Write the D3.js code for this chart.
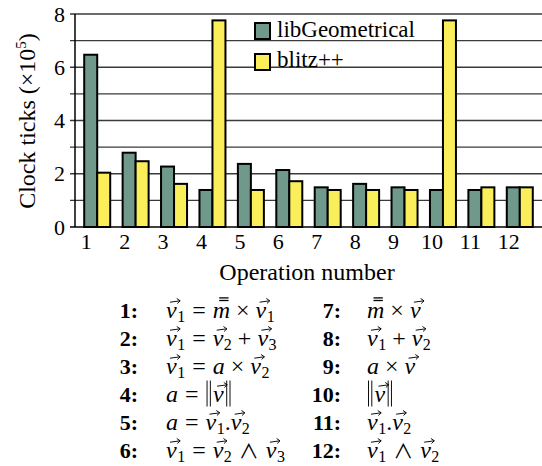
<!DOCTYPE html>
<html><head><meta charset="utf-8">
<script src="https://cdn.jsdelivr.net/npm/d3@7"></script>
<style>
html,body{margin:0;padding:0;background:#fff;}
svg{display:block;}
</style></head>
<body>
<svg id="c" width="542" height="466"></svg>
<script>
const categories = ["1","2","3","4","5","6","7","8","9","10","11","12"];
const libGeometrical = [6.47, 2.79, 2.27, 1.39, 2.37, 2.14, 1.49, 1.62, 1.49, 1.39, 1.39, 1.49];
const blitz = [2.04, 2.47, 1.62, 7.76, 1.39, 1.72, 1.39, 1.39, 1.39, 7.76, 1.49, 1.49];
const yTickLabels = [0, 2, 4, 6, 8];
const yGridValues = [1, 2, 3, 4, 5, 6, 7, 8];
const seriesNames = ["libGeometrical", "blitz++"];
const seriesColors = ["#6f9a8b", "#fbee5b"];
const opLabels = ["1:","2:","3:","4:","5:","6:","7:","8:","9:","10:","11:","12:"];
const opFormulas = [
  [["vec","v","1"],["rel","="],["mat","m"],["bin","×"],["vec","v","1"]],
  [["vec","v","1"],["rel","="],["vec","v","2"],["bin","+"],["vec","v","3"]],
  [["vec","v","1"],["rel","="],["it","a"],["bin","×"],["vec","v","2"]],
  [["it","a"],["rel","="],["norm","v"]],
  [["it","a"],["rel","="],["vec","v","1"],["dot","."],["vec","v","2"]],
  [["vec","v","1"],["rel","="],["vec","v","2"],["wedge","∧"],["vec","v","3"]],
  [["mat","m"],["bin","×"],["vec","v",""]],
  [["vec","v","1"],["bin","+"],["vec","v","2"]],
  [["it","a"],["bin","×"],["vec","v",""]],
  [["norm","v"]],
  [["vec","v","1"],["dot","."],["vec","v","2"]],
  [["vec","v","1"],["wedge","∧"],["vec","v","2"]]
];

const FONT = "'Liberation Serif','Times New Roman',serif";
const svg = d3.select("#c");

const axisX = 75, x0 = 78, x1 = 539, yTop = 14, yBot = 227;
const x = d3.scaleBand().domain(categories).range([x0, x1]);
const y = d3.scaleLinear().domain([0, 8]).range([yBot, yTop]);
const barW = 13;

// gridlines
svg.append("g").selectAll("line").data(yGridValues).join("line")
  .attr("x1", axisX - 5).attr("x2", 542)
  .attr("y1", d => y(d)).attr("y2", d => y(d))
  .attr("stroke", "#3a3a3a").attr("stroke-width", 1.3);

// bars
const series = [libGeometrical, blitz];
series.forEach((vals, si) => {
  svg.append("g").selectAll("rect").data(vals).join("rect")
    .attr("x", (d, i) => x(categories[i]) + x.bandwidth() / 2 - barW + si * barW)
    .attr("y", d => y(d))
    .attr("width", barW)
    .attr("height", d => y(0) - y(d))
    .attr("fill", seriesColors[si])
    .attr("stroke", "#000").attr("stroke-width", 2);
});

// axes lines
svg.append("line").attr("x1", axisX).attr("x2", axisX).attr("y1", y(8)).attr("y2", y(0))
  .attr("stroke", "#000").attr("stroke-width", 1.5);
svg.append("line").attr("x1", axisX - 5).attr("x2", 542).attr("y1", y(0)).attr("y2", y(0))
  .attr("stroke", "#000").attr("stroke-width", 1.6);

// y axis labels
const ya = svg.append("g").attr("transform", `translate(${axisX},0)`)
  .call(d3.axisLeft(y).tickValues(yTickLabels).tickSize(0).tickPadding(10).tickFormat(d3.format("d")));
ya.select(".domain").remove();
ya.selectAll("text").attr("font-family", FONT).attr("font-size", 22).attr("fill", "#000");

// x axis labels
const xa = svg.append("g").attr("transform", `translate(0,${yBot})`)
  .call(d3.axisBottom(x).tickSize(0).tickPadding(6));
xa.select(".domain").remove();
xa.selectAll("text").attr("font-family", FONT).attr("font-size", 22).attr("fill", "#000").attr("dx", -11);

// axis titles
svg.append("text").attr("x", 307).attr("y", 280).attr("text-anchor", "middle")
  .attr("font-family", FONT).attr("font-size", 24).text("Operation number");
const yt = svg.append("text").attr("transform", "translate(35,121) rotate(-90)")
  .attr("text-anchor", "middle").attr("font-family", FONT).attr("font-size", 24);
yt.append("tspan").text("Clock ticks (×10");
yt.append("tspan").attr("font-size", 15).attr("dy", -9).text("5");
yt.append("tspan").attr("dy", 9).text(")");

// legend
const leg = svg.append("g");
seriesNames.forEach((n, i) => {
  leg.append("rect").attr("x", 255).attr("y", 23 + i * 31).attr("width", 15).attr("height", 16)
    .attr("fill", seriesColors[i]).attr("stroke", "#000").attr("stroke-width", 2);
  leg.append("text").attr("x", 277).attr("y", 37 + i * 30).attr("font-family", FONT)
    .attr("font-size", 23).text(n);
});

// formulas
const FS = 24;
function arrow(g, xa, xb, yy) {
  g.append("path").attr("d", `M${xa},${yy + 0.7}L${xb},${yy - 0.7}M${xb-3.4},${yy-3}L${xb},${yy-0.7}L${xb-2.8},${yy+2}`)
    .attr("stroke", "#000").attr("stroke-width", 0.95).attr("fill", "none");
}
function txt(g, cx, yy, s, opts) {
  const t = g.append("text").attr("x", cx).attr("y", yy)
    .attr("font-family", opts.family || FONT).attr("font-size", opts.size || FS);
  if (opts.italic) t.attr("font-style", "italic");
  if (opts.weight) t.attr("font-weight", opts.weight);
  t.text(s);
  return t.node().getComputedTextLength();
}
function drawVec(g, cx, yy, letter, sub) {
  const w = txt(g, cx, yy, letter, {italic: true});
  arrow(g, cx + 4, cx + w + 3.5, yy - 16.5);
  cx += w;
  if (sub) {
    cx += txt(g, cx + 0.5, yy + 3.5, sub, {size: 16}) + 0.5;
  } else cx += 2.5;
  return cx;
}
function drawFormula(g, cx, yy, tokens) {
  tokens.forEach(tk => {
    const k = tk[0];
    if (k === "rel") {
      cx += 7; cx += txt(g, cx, yy, tk[1], {size: 24}); cx += 7;
    } else if (k === "bin") {
      cx += 6; cx += txt(g, cx, yy, tk[1], {size: 24}); cx += 6;
    } else if (k === "dot") {
      cx += txt(g, cx, yy, tk[1], {});
    } else if (k === "wedge") {
      cx += 7; cx += txt(g, cx, yy + 1, tk[1], {family: "'Noto Sans CJK JP','DejaVu Serif',serif", size: 20}); cx += 7;
    } else if (k === "it") {
      cx += txt(g, cx, yy, tk[1], {italic: true});
    } else if (k === "mat") {
      const w = txt(g, cx, yy, tk[1], {italic: true});
      [17.5, 20.1].forEach(o => g.append("line").attr("x1", cx + 6.5).attr("x2", cx + w - 1.5)
        .attr("y1", yy - o).attr("y2", yy - o).attr("stroke", "#000").attr("stroke-width", 1.3));
      cx += w;
    } else if (k === "vec") {
      cx = drawVec(g, cx, yy, tk[1], tk[2]);
    } else if (k === "norm") {
      const bars = (bx) => [0, 3.3].forEach(o => g.append("line").attr("x1", bx + o).attr("x2", bx + o)
        .attr("y1", yy + 4.5).attr("y2", yy - 21.5).attr("stroke", "#000").attr("stroke-width", 0.95));
      bars(cx + 1.5);
      cx += 7.5;
      cx = drawVec(g, cx, yy, tk[1], "");
      bars(cx + 0.5);
      cx += 5;
    }
  });
}
const fg = svg.append("g");
opLabels.forEach((lab, i) => {
  const col = i < 6 ? 0 : 1;
  const row = i % 6;
  const yy = 318 + row * 28;
  const labX = col === 0 ? 138 : 341;
  fg.append("text").attr("x", labX).attr("y", yy).attr("text-anchor", "end")
    .attr("font-family", FONT).attr("font-weight", "bold").attr("font-size", 22).text(lab);
  drawFormula(fg, col === 0 ? 166 : 367, yy, opFormulas[i]);
});
</script>
</body></html>
